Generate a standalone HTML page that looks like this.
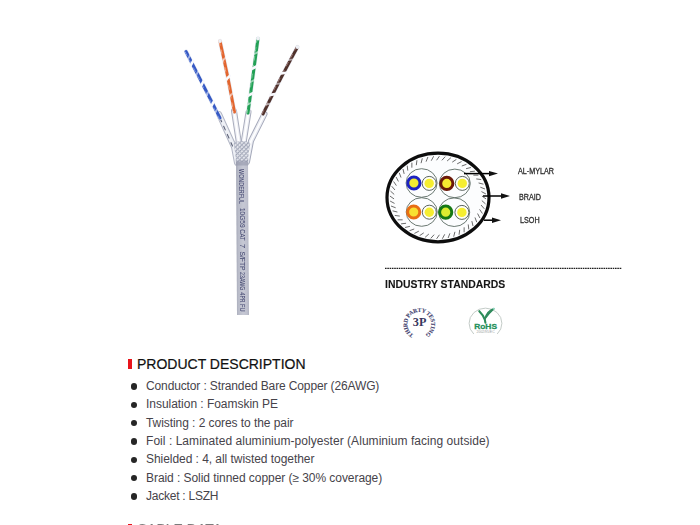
<!DOCTYPE html>
<html><head><meta charset="utf-8">
<style>
html,body{margin:0;padding:0;background:#fff;}
body{width:700px;height:525px;overflow:hidden;position:relative;font-family:"Liberation Sans",sans-serif;}
.abs{position:absolute;}
svg{position:absolute;left:0;top:0;}
.lbl{position:absolute;font-family:"Liberation Sans",sans-serif;font-size:8.4px;color:#2e2e2e;white-space:nowrap;line-height:1;transform:scaleX(0.86);transform-origin:0 0;-webkit-text-stroke:0.3px #2e2e2e;}
.h2{position:absolute;left:137px;top:356.3px;font-size:14px;color:#111;white-space:nowrap;line-height:16px;-webkit-text-stroke:0.2px #111;}
.bar{position:absolute;left:128px;width:4px;background:#e8141c;}
ul{position:absolute;left:0;top:0;margin:0;padding:0;list-style:none;}
li{position:absolute;left:146px;font-size:12px;color:#46434a;white-space:nowrap;line-height:14px;}
.dot{position:absolute;left:130.8px;width:6.5px;height:6.6px;border-radius:50%;background:#262626;}
</style></head><body>

<!-- cable photo -->
<svg width="700" height="525" viewBox="0 0 700 525">
  <defs>
    <pattern id="braid" width="3" height="3" patternUnits="userSpaceOnUse" patternTransform="rotate(45)">
      <rect width="3" height="3" fill="#e2e4eb"/>
      <rect width="1" height="3" fill="#9aa0b2"/>
      <rect width="3" height="1" fill="#b0b4c3"/>
    </pattern>
    <linearGradient id="jk" x1="0" y1="0" x2="1" y2="0">
      <stop offset="0" stop-color="#a6a9b8"/><stop offset="0.2" stop-color="#b9bcc9"/><stop offset="0.55" stop-color="#c6c8d4"/><stop offset="0.85" stop-color="#bfc1ce"/><stop offset="1" stop-color="#b0b3c1"/>
    </linearGradient>
    <filter id="soft" x="-10%" y="-10%" width="120%" height="120%"><feGaussianBlur stdDeviation="0.7"/></filter>
  </defs>
  <g filter="url(#soft)">
  <g fill="none" stroke-linecap="round">
    <!-- foil covered portions -->
    <path d="M219,114 L234,147 L237,163" stroke="#b2b6c5" stroke-width="6"/>
    <path d="M219,114 L234,147 L237,163" stroke="#eef0f5" stroke-width="4"/>
    <path d="M220,118 L232.5,146" stroke="#5c6176" stroke-width="1.1" stroke-dasharray="4,5"/>
    <path d="M234,111 L238.5,140 L240,162" stroke="#a9adbd" stroke-width="6"/>
    <path d="M234,111 L238.5,140 L240,162" stroke="#f0f1f6" stroke-width="4"/>
    <path d="M234,111 L238.5,140 L240,162" stroke="#ffffff" stroke-width="1.6"/>
    <path d="M248.5,112 L244,140 L243,162" stroke="#a9adbd" stroke-width="6"/>
    <path d="M248.5,112 L244,140 L243,162" stroke="#f0f1f6" stroke-width="4"/>
    <path d="M248.5,112 L244,140 L243,162" stroke="#ffffff" stroke-width="1.6"/>
    <path d="M264.5,114 L251,141 L247,162" stroke="#a4a8b9" stroke-width="6"/>
    <path d="M264.5,114 L251,141 L247,162" stroke="#eceef4" stroke-width="4"/>
    <path d="M264.5,114 L251,141 L247,162" stroke="#ffffff" stroke-width="1.6"/>
    <!-- coloured twisted pairs -->
<path d="M186,51.5 Q203,84.75 220,118" fill="none" stroke="#e6e9f1" stroke-width="4.2" stroke-linecap="round"/>
<path d="M186,51.5 Q203,84.75 220,118" fill="none" stroke="#3458c4" stroke-width="3.0" stroke-linecap="round"/>
<path d="M185.20,51.91 L186.05,53.57 L186.90,55.23 L187.75,56.90 L188.60,58.56 L189.45,60.22 L190.30,61.88 L191.15,63.55 L192.00,65.21 L192.85,66.87 L193.70,68.53 L194.55,70.20 L195.40,71.86 L196.25,73.52 L197.10,75.18 L197.95,76.85 L198.80,78.51 L199.65,80.17 L200.50,81.83 L201.35,83.50 L202.20,85.16 L203.05,86.82 L203.90,88.48 L204.75,90.15 L205.60,91.81 L206.45,93.47 L207.30,95.13 L208.15,96.80 L209.00,98.46 L209.85,100.12 L210.70,101.78 L211.55,103.45 L212.40,105.11 L213.25,106.77 L214.10,108.43 L214.95,110.10 L215.80,111.76 L216.65,113.42 L217.50,115.08 L218.35,116.75 L219.20,118.41" fill="none" stroke="#8aa2e6" stroke-width="1.0" stroke-dasharray="4,5" opacity="0.9"/>
<path d="M193.17,60.84 L190.73,65.43" stroke="#f8f9fd" stroke-width="2.6" stroke-linecap="round" opacity="1.0"/>
<path d="M203.54,81.12 L201.10,85.72" stroke="#f8f9fd" stroke-width="2.6" stroke-linecap="round" opacity="1.0"/>
<path d="M213.91,101.41 L211.47,106.00" stroke="#f8f9fd" stroke-width="2.6" stroke-linecap="round" opacity="1.0"/>
<path d="M190.19,55.02 L187.76,59.62" stroke="#f8f9fd" stroke-width="1.8" stroke-linecap="round" opacity="0.55"/>
<path d="M198.35,70.98 L195.92,75.58" stroke="#f8f9fd" stroke-width="1.8" stroke-linecap="round" opacity="0.55"/>
<path d="M208.72,91.26 L206.29,95.86" stroke="#f8f9fd" stroke-width="1.8" stroke-linecap="round" opacity="0.55"/>
<path d="M217.56,108.55 L215.13,113.15" stroke="#f8f9fd" stroke-width="1.8" stroke-linecap="round" opacity="0.55"/>
<path d="M220,41 Q228,76 234.5,112" fill="none" stroke="#e6e9f1" stroke-width="4.2" stroke-linecap="round"/>
<path d="M220,41 Q228,76 234.5,112" fill="none" stroke="#e2652f" stroke-width="3.0" stroke-linecap="round"/>
<path d="M219.12,41.20 L219.52,42.95 L219.92,44.70 L220.31,46.45 L220.71,48.21 L221.10,49.96 L221.49,51.72 L221.88,53.47 L222.26,55.23 L222.64,56.99 L223.03,58.75 L223.41,60.51 L223.78,62.28 L224.16,64.04 L224.54,65.81 L224.91,67.58 L225.28,69.34 L225.65,71.11 L226.01,72.88 L226.38,74.66 L226.74,76.43 L227.10,78.20 L227.46,79.98 L227.82,81.76 L228.18,83.54 L228.53,85.32 L228.88,87.10 L229.23,88.88 L229.58,90.66 L229.93,92.45 L230.27,94.23 L230.62,96.02 L230.96,97.81 L231.29,99.60 L231.63,101.39 L231.97,103.18 L232.30,104.97 L232.63,106.77 L232.96,108.56 L233.29,110.36 L233.61,112.16" fill="none" stroke="#f5b090" stroke-width="1.0" stroke-dasharray="4,5" opacity="0.9"/>
<path d="M229.70,75.78 L226.12,79.56" stroke="#f8f9fd" stroke-width="2.6" stroke-linecap="round" opacity="1.0"/>
<path d="M225.83,57.36 L222.29,61.17" stroke="#f8f9fd" stroke-width="1.8" stroke-linecap="round" opacity="0.55"/>
<path d="M233.10,92.91 L229.48,96.64" stroke="#f8f9fd" stroke-width="1.8" stroke-linecap="round" opacity="0.55"/>
<circle cx="220.0" cy="41.0" r="1.9" fill="#eef0f5"/>
<path d="M258,38.5 Q253,76 248,113" fill="none" stroke="#e6e9f1" stroke-width="4.2" stroke-linecap="round"/>
<path d="M258,38.5 Q253,76 248,113" fill="none" stroke="#22a055" stroke-width="3.0" stroke-linecap="round"/>
<path d="M257.11,38.38 L256.86,40.26 L256.61,42.13 L256.36,44.00 L256.11,45.88 L255.86,47.75 L255.61,49.62 L255.36,51.49 L255.11,53.36 L254.86,55.23 L254.61,57.10 L254.36,58.97 L254.11,60.84 L253.86,62.70 L253.61,64.57 L253.36,66.44 L253.11,68.30 L252.86,70.17 L252.61,72.03 L252.36,73.89 L252.11,75.76 L251.86,77.62 L251.61,79.48 L251.36,81.34 L251.11,83.20 L250.86,85.06 L250.61,86.92 L250.36,88.78 L250.11,90.63 L249.86,92.49 L249.61,94.35 L249.36,96.20 L249.11,98.06 L248.86,99.91 L248.61,101.77 L248.36,103.62 L248.11,105.47 L247.86,107.33 L247.61,109.18 L247.36,111.03 L247.11,112.88" fill="none" stroke="#86d0a4" stroke-width="1.0" stroke-dasharray="4,5" opacity="0.9"/>
<path d="M256.41,66.48 L251.79,68.87" stroke="#f8f9fd" stroke-width="2.6" stroke-linecap="round" opacity="1.0"/>
<path d="M252.81,93.28 L248.19,95.66" stroke="#f8f9fd" stroke-width="2.6" stroke-linecap="round" opacity="1.0"/>
<path d="M258.36,51.91 L253.74,54.30" stroke="#f8f9fd" stroke-width="1.8" stroke-linecap="round" opacity="0.55"/>
<path d="M254.61,79.89 L249.99,82.28" stroke="#f8f9fd" stroke-width="1.8" stroke-linecap="round" opacity="0.55"/>
<path d="M251.56,102.55 L246.94,104.94" stroke="#f8f9fd" stroke-width="1.8" stroke-linecap="round" opacity="0.55"/>
<circle cx="258.0" cy="38.5" r="1.9" fill="#eef0f5"/>
<path d="M297.5,47 Q281,77 263,114" fill="none" stroke="#e6e9f1" stroke-width="4.2" stroke-linecap="round"/>
<path d="M297.5,47 Q281,77 263,114" fill="none" stroke="#50302c" stroke-width="3.0" stroke-linecap="round"/>
<path d="M296.71,46.57 L295.88,48.07 L295.06,49.59 L294.23,51.11 L293.39,52.64 L292.56,54.18 L291.72,55.73 L290.89,57.29 L290.05,58.86 L289.20,60.43 L288.36,62.02 L287.52,63.61 L286.67,65.21 L285.82,66.82 L284.97,68.44 L284.12,70.07 L283.26,71.70 L282.41,73.35 L281.55,75.00 L280.69,76.67 L279.82,78.34 L278.96,80.02 L278.10,81.71 L277.23,83.41 L276.36,85.11 L275.49,86.83 L274.61,88.55 L273.74,90.28 L272.86,92.03 L271.98,93.78 L271.10,95.54 L270.22,97.30 L269.33,99.08 L268.45,100.86 L267.56,102.66 L266.67,104.46 L265.78,106.27 L264.88,108.09 L263.99,109.92 L263.09,111.76 L262.19,113.61" fill="none" stroke="#a88884" stroke-width="1.0" stroke-dasharray="4,5" opacity="0.9"/>
<path d="M286.12,72.77 L280.97,73.45" stroke="#f8f9fd" stroke-width="2.6" stroke-linecap="round" opacity="1.0"/>
<path d="M275.18,94.15 L270.04,94.91" stroke="#f8f9fd" stroke-width="2.6" stroke-linecap="round" opacity="1.0"/>
<path d="M293.17,59.44 L288.01,60.06" stroke="#f8f9fd" stroke-width="1.8" stroke-linecap="round" opacity="0.55"/>
<path d="M280.69,83.28 L275.54,84.00" stroke="#f8f9fd" stroke-width="1.8" stroke-linecap="round" opacity="0.55"/>
<path d="M270.40,103.74 L265.26,104.53" stroke="#f8f9fd" stroke-width="1.8" stroke-linecap="round" opacity="0.55"/>
<circle cx="297.5" cy="47.0" r="1.9" fill="#eef0f5"/>

  </g>
  <!-- braid -->
  <path d="M233.5,143 Q235.5,152 236,163.5 L248,163.5 Q248.5,152 250.5,143 Q242,139 233.5,143 Z" fill="url(#braid)" opacity="0.95"/>
  </g>
  <!-- jacket -->
  <g filter="url(#soft)">
  <path d="M236,162 L248,162 L249,315 L237,315 Z" fill="url(#jk)"/>
  <path d="M235.8,160.5 L248.2,160.5 L248.2,165.5 L235.8,165.5 Z" fill="#8f94a8" opacity="0.55"/>
  <g font-family="Liberation Sans" font-size="7.2" fill="#454971" stroke="#454971" stroke-width="0.05"><text transform="translate(239.40,169) rotate(90)" textLength="35.0" lengthAdjust="spacingAndGlyphs">WONDERFUL</text><text transform="translate(239.67,208) rotate(90)" textLength="19.5" lengthAdjust="spacingAndGlyphs">10G59</text><text transform="translate(239.81,229.2) rotate(90)" textLength="11.3" lengthAdjust="spacingAndGlyphs">CAT</text><text transform="translate(239.91,244) rotate(90)" textLength="4.0" lengthAdjust="spacingAndGlyphs">7</text><text transform="translate(239.97,251.5) rotate(90)" textLength="19.0" lengthAdjust="spacingAndGlyphs">S/FTP</text><text transform="translate(240.11,272) rotate(90)" textLength="18.5" lengthAdjust="spacingAndGlyphs">23AWG</text><text transform="translate(240.25,292.6) rotate(90)" textLength="9.9" lengthAdjust="spacingAndGlyphs">4PR</text><text transform="translate(240.32,304) rotate(90)" textLength="7.6" lengthAdjust="spacingAndGlyphs">FU</text></g>
  </g>
</svg>

<!-- cross-section diagram -->
<svg width="700" height="525" viewBox="0 0 700 525">
  <ellipse cx="438" cy="197.5" rx="51" ry="44.3" fill="#fcfdfe"/>
<path d="M481.95,196.07 L486.05,198.93 M481.80,200.57 L485.52,203.91 M481.02,205.02 L484.31,208.79 M479.60,209.37 L482.42,213.50 M477.58,213.54 L479.88,217.99 M474.99,217.48 L476.73,222.17 M471.85,221.13 L473.01,225.99 M468.22,224.43 L468.79,229.40 M464.15,227.34 L464.11,232.34 M459.70,229.82 L459.06,234.78 M454.93,231.82 L453.70,236.67 M449.91,233.33 L448.11,237.99 M444.72,234.31 L442.37,238.72 M439.43,234.75 L436.57,238.85 M434.13,234.65 L430.78,238.37 M428.87,234.01 L425.11,237.30 M423.76,232.84 L419.62,235.65 M418.84,231.15 L414.40,233.45 M414.21,228.97 L409.53,230.71 M409.93,226.33 L405.07,227.50 M406.05,223.28 L401.08,223.85 M402.64,219.84 L397.64,219.81 M399.75,216.08 L394.79,215.45 M397.41,212.05 L392.57,210.82 M395.67,207.81 L391.01,206.00 M394.54,203.41 L390.13,201.06 M394.05,198.93 L389.95,196.07 M394.20,194.43 L390.48,191.09 M394.98,189.98 L391.69,186.21 M396.40,185.63 L393.58,181.50 M398.42,181.46 L396.12,177.01 M401.01,177.52 L399.27,172.83 M404.15,173.87 L402.99,169.01 M407.78,170.57 L407.21,165.60 M411.85,167.66 L411.89,162.66 M416.30,165.18 L416.94,160.22 M421.07,163.18 L422.30,158.33 M426.09,161.67 L427.89,157.01 M431.28,160.69 L433.63,156.28 M436.57,160.25 L439.43,156.15 M441.87,160.35 L445.22,156.63 M447.13,160.99 L450.89,157.70 M452.24,162.16 L456.38,159.35 M457.16,163.85 L461.60,161.55 M461.79,166.03 L466.47,164.29 M466.07,168.67 L470.93,167.50 M469.95,171.72 L474.92,171.15 M473.36,175.16 L478.36,175.19 M476.25,178.92 L481.21,179.55 M478.59,182.95 L483.43,184.18 M480.33,187.19 L484.99,189.00 M481.46,191.59 L485.87,193.94" stroke="#505050" stroke-width="0.85" fill="none"/>
<ellipse cx="438" cy="197.5" rx="51" ry="44.3" fill="none" stroke="#0d0d0d" stroke-width="3.2"/>
<ellipse cx="421.6" cy="183.0" rx="15.5" ry="14.3" fill="none" stroke="#5a6a62" stroke-width="0.9"/>
<circle cx="429.2" cy="183.4" r="7" fill="#fdfdf4" stroke="#4a5450" stroke-width="0.9"/>
<circle cx="429.2" cy="183.4" r="4.7" fill="#f6ee30"/>
<circle cx="413.9" cy="183.0" r="6.1" fill="#f2ea30" stroke="#1c22c0" stroke-width="3.0"/>
<ellipse cx="454.8" cy="183.4" rx="15.5" ry="14.3" fill="none" stroke="#5a6a62" stroke-width="0.9"/>
<circle cx="462.3" cy="183.4" r="7" fill="#fdfdf4" stroke="#4a5450" stroke-width="0.9"/>
<circle cx="462.3" cy="183.4" r="4.7" fill="#f6ee30"/>
<circle cx="446.8" cy="183.4" r="6.1" fill="#f8e830" stroke="#6a1808" stroke-width="3.0"/>
<ellipse cx="421.7" cy="212.0" rx="15.5" ry="14.3" fill="none" stroke="#5a6a62" stroke-width="0.9"/>
<circle cx="429.3" cy="212.2" r="7" fill="#fdfdf4" stroke="#4a5450" stroke-width="0.9"/>
<circle cx="429.3" cy="212.2" r="4.7" fill="#f6ee30"/>
<circle cx="413.7" cy="212.0" r="6.1" fill="#f8e030" stroke="#e86e14" stroke-width="3.0"/>
<ellipse cx="454.2" cy="212.2" rx="15.5" ry="14.3" fill="none" stroke="#5a6a62" stroke-width="0.9"/>
<circle cx="461.9" cy="212.4" r="7" fill="#fdfdf4" stroke="#4a5450" stroke-width="0.9"/>
<circle cx="461.9" cy="212.4" r="4.7" fill="#f6ee30"/>
<circle cx="445.7" cy="212.2" r="6.1" fill="#dcec30" stroke="#167814" stroke-width="3.0"/>

  <!-- arrows -->
  <g stroke="#000" stroke-width="1.5">
    <line x1="464" y1="173.6" x2="493" y2="173.6"/>
    <line x1="483" y1="196" x2="505" y2="196"/>
    <line x1="484" y1="220.2" x2="496" y2="220.2"/>
  </g>
  <g fill="#111">
    <path d="M498,173.6 L489,170.9 L489,176.3 Z"/>
    <path d="M510,196 L501,193.3 L501,198.7 Z"/>
    <path d="M501,220.2 L492,217.5 L492,222.9 Z"/>
  </g>
  <!-- dashed rule -->
  <line x1="385" y1="268.3" x2="622" y2="268.3" stroke="#1e1e1e" stroke-width="1.2" stroke-dasharray="1.6,0.7"/>
</svg>

<div class="lbl" style="left:518px;top:166.5px;">AL-MYLAR</div>
<div class="lbl" style="left:518.7px;top:192.5px;">BRAID</div>
<div class="lbl" style="left:519.6px;top:216.4px;">LSOH</div>

<div class="abs" style="left:385px;top:276.6px;font-size:11.4px;font-weight:bold;color:#161616;white-space:nowrap;line-height:14px;transform:scaleX(0.915);transform-origin:0 0;-webkit-text-stroke:0.1px #161616;">INDUSTRY STANDARDS</div>

<!-- logos -->
<svg width="700" height="525" viewBox="0 0 700 525">
  <defs>
    <path id="arc3p" d="M413.67,334.60 A12.0,12.0 0 1,1 424.93,334.60"/>
  </defs>
  <text font-family="Liberation Serif" font-weight="bold" font-size="5.8" fill="#40406e" stroke="#40406e" stroke-width="0.1"><textPath href="#arc3p" textLength="62.7" lengthAdjust="spacing">THIRD PARTY TESTING</textPath></text>
  <text x="419.6" y="326.3" text-anchor="middle" font-family="Liberation Serif" font-weight="bold" font-size="12.2" fill="#383860">3P</text>
  <path d="M473.8,334 A16.4,15.2 0 1,1 497.2,334" fill="none" stroke="#c4ccc8" stroke-width="1"/>
  <path d="M479.3,311.2 Q483,314.8 484.8,319.5 L485.4,322.6" fill="none" stroke="#2c8c58" stroke-width="2.1" stroke-linecap="round"/>
  <path d="M494.2,308.4 Q486.5,311 484.6,319.5 Q488.5,313.5 494.2,308.4 Z" fill="#2f8a5c" stroke="#2f8a5c" stroke-width="1.3"/>
  <circle cx="493.8" cy="308.8" r="1" fill="#8fd8c0"/>
  <text x="474.2" y="329.1" font-family="Liberation Sans" font-weight="bold" font-size="7.8" fill="#25905a" stroke="#25905a" stroke-width="0.3" textLength="22.8" lengthAdjust="spacingAndGlyphs">RoHS</text>
  <text x="476.6" y="333.3" font-family="Liberation Sans" font-size="2.6" fill="#9aa0a0" textLength="18" lengthAdjust="spacingAndGlyphs">2002/95/EC</text>
</svg>

<!-- product description -->
<div class="bar" style="top:359px;height:10px;"></div>
<div class="h2">PRODUCT DESCRIPTION</div>

<div class="dot" style="top:383.20px;"></div>
<div class="dot" style="top:401.53px;"></div>
<div class="dot" style="top:419.86px;"></div>
<div class="dot" style="top:438.19px;"></div>
<div class="dot" style="top:456.52px;"></div>
<div class="dot" style="top:474.85px;"></div>
<div class="dot" style="top:493.18px;"></div>
<ul>
<li style="top:379.00px;letter-spacing:-0.128px;">Conductor : Stranded Bare Copper (26AWG)</li>
<li style="top:397.33px;letter-spacing:-0.035px;">Insulation : Foamskin PE</li>
<li style="top:415.67px;letter-spacing:-0.064px;">Twisting : 2 cores to the pair</li>
<li style="top:434.00px;letter-spacing:0.045px;">Foil : Laminated aluminium-polyester (Aluminium facing outside)</li>
<li style="top:452.33px;letter-spacing:-0.05px;">Shielded : 4, all twisted together</li>
<li style="top:470.66px;letter-spacing:-0.058px;">Braid : Solid tinned copper (≥ 30% coverage)</li>
<li style="top:489.00px;letter-spacing:-0.24px;">Jacket : LSZH</li>
</ul>

<div class="bar" style="top:524px;height:10px;"></div>
<div class="h2" style="top:521.3px;opacity:0.55;">CABLE DATA</div>

</body></html>
